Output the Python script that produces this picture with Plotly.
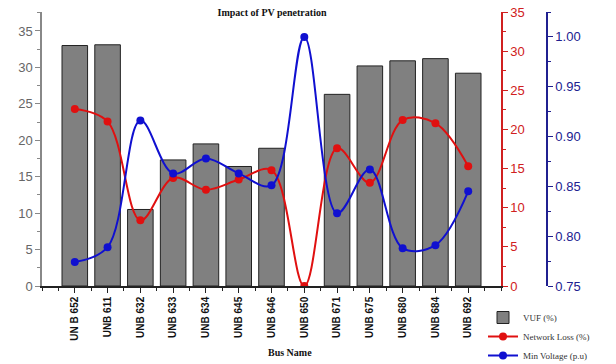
import plotly.graph_objects as go

buses = ["UN B 652", "UNB 611", "UNB 632", "UNB 633", "UNB 634", "UNB 645", "UNB 646",
         "UNB 650", "UNB 671", "UNB 675", "UNB 680", "UNB 684", "UNB 692"]
vuf = [33.0, 33.1, 10.5, 17.3, 19.5, 16.4, 18.9, None, 26.3, 30.2, 30.9, 31.2, 29.2]
net_loss = [22.6, 21.0, 8.4, 13.8, 12.3, 13.6, 14.8, 0.0, 17.6, 13.2, 21.2, 20.8, 15.3]
min_volt = [0.774, 0.789, 0.916, 0.863, 0.878, 0.863, 0.851, 1.000, 0.823, 0.867, 0.788, 0.791, 0.845]

xs = list(range(len(buses)))
W, H = 616, 364
xl, xr = 42 / W, 501 / W
yb, yt = 1 - 286 / H, 1 - 12 / H

fig = go.Figure()
fig.add_trace(go.Bar(x=xs, y=vuf, name="VUF (%)", width=0.78,
                     marker=dict(color="#808080", line=dict(color="#222222", width=1)),
                     yaxis="y"))
fig.add_trace(go.Scatter(x=xs, y=net_loss, name="Network Loss (%)", mode="lines+markers",
                         line=dict(color="#e01010", width=2, shape="spline", smoothing=1.0),
                         marker=dict(color="#e01010", size=8), yaxis="y2"))
fig.add_trace(go.Scatter(x=xs, y=min_volt, name="Min Voltage (p.u)", mode="lines+markers",
                         line=dict(color="#1010d0", width=2, shape="spline", smoothing=1.0),
                         marker=dict(color="#1010d0", size=8), yaxis="y3"))

serif = "Liberation Serif, Times New Roman"
sans = "Liberation Sans, Arial"
fig.update_layout(
    template="none",
    width=W, height=H, margin=dict(l=0, r=0, t=0, b=0, autoexpand=False),
    plot_bgcolor="white", paper_bgcolor="white",
    showlegend=True,
    legend=dict(x=483 / W, y=1 - 303 / H, xanchor="left", yanchor="top",
                font=dict(family=serif, size=9, color="#333333"),
                bgcolor="rgba(0,0,0,0)", tracegroupgap=0, itemwidth=30),
    title=dict(text="<b>Impact of PV penetration</b>", x=272 / W, xanchor="center",
               y=1 - 12 / H, yanchor="middle",
               font=dict(family=serif, size=10, color="#111111")),
    annotations=[dict(text="<b>Bus Name</b>", x=290 / W, y=1 - 352 / H, xref="paper", yref="paper",
                      xanchor="center", yanchor="middle", showarrow=False,
                      font=dict(family=serif, size=10, color="#111111"))],
    xaxis=dict(domain=[xl, xr], range=[-1, 13], tickvals=xs, ticktext=["<b>%s</b>" % b for b in buses],
               tickangle=-90, tickfont=dict(family=sans, size=10, color="#111111"),
               showline=True, linecolor="#222222", linewidth=1.5, ticks="outside", ticklen=5,
               tickcolor="#222222", showgrid=False, zeroline=False, automargin=False,
               minor=dict(ticks="outside", ticklen=3, dtick=0.5, tick0=-0.5, tickcolor="#222222",
                          showgrid=False),
               anchor="y"),
    yaxis=dict(domain=[yb, yt], range=[0, 37.6], tickvals=[0, 5, 10, 15, 20, 25, 30, 35],
               tickfont=dict(family=sans, size=13, color="#666666"),
               showline=True, linecolor="#888888", linewidth=1.5, ticks="outside", ticklen=5,
               tickcolor="#888888", showgrid=False, zeroline=False, automargin=False,
               minor=dict(ticks="outside", ticklen=3, dtick=2.5, tickcolor="#888888", showgrid=False)),
    yaxis2=dict(overlaying="y", side="right", anchor="x", range=[0, 35],
                tickvals=[0, 5, 10, 15, 20, 25, 30, 35],
                tickfont=dict(family=sans, size=13, color="#d02020"),
                showline=True, linecolor="#d02020", linewidth=1.5, ticks="outside", ticklen=5,
                tickcolor="#d02020", showgrid=False, zeroline=False, automargin=False,
                minor=dict(ticks="outside", ticklen=3, dtick=2.5, tickcolor="#d02020", showgrid=False)),
    yaxis3=dict(overlaying="y", side="right", anchor="free", position=547 / W,
                range=[0.75, 1.025], tickvals=[0.75, 0.80, 0.85, 0.90, 0.95, 1.00],
                tickformat=".2f",
                tickfont=dict(family=sans, size=13, color="#202090"),
                showline=True, linecolor="#202090", linewidth=1.5, ticks="outside", ticklen=5,
                tickcolor="#202090", showgrid=False, zeroline=False, automargin=False,
                minor=dict(ticks="outside", ticklen=3, dtick=0.025, tickcolor="#202090", showgrid=False)),
)

fig.write_html("out.html", config={"displayModeBar": False},
               post_script="document.body.style.margin='0';document.body.style.overflow='hidden';")
